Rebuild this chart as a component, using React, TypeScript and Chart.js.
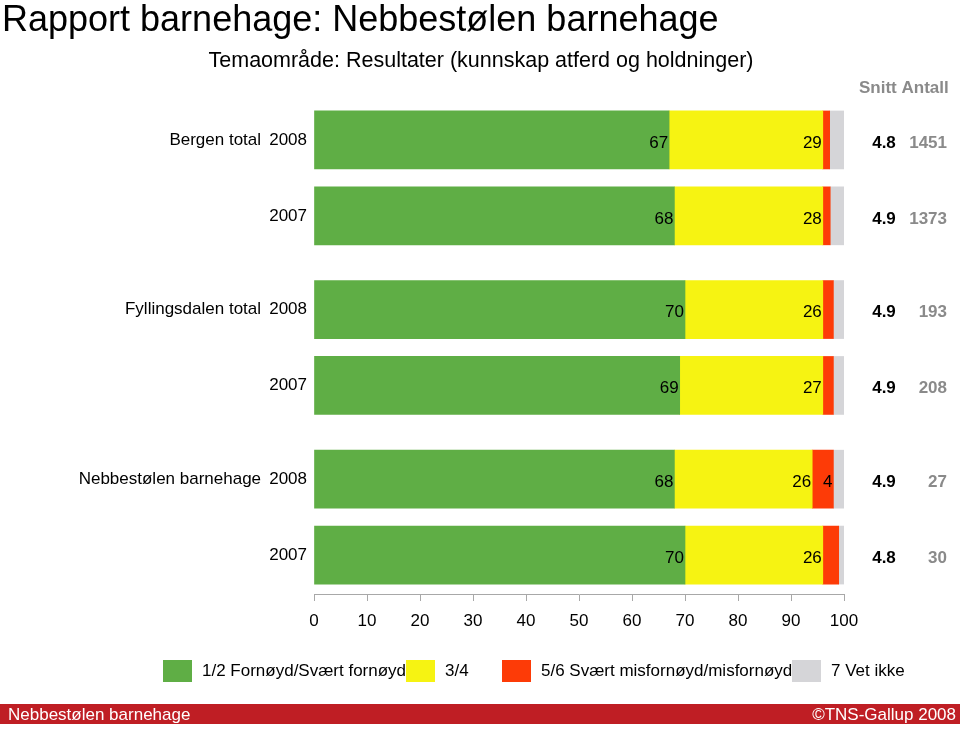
import React, { useEffect, useRef } from "react";
import { Chart, registerables } from "chart.js";

Chart.register(...registerables);

// ---------- data ----------
const groupNames = ["Bergen total", "Fyllingsdalen total", "Nebbestølen barnehage"];
const years = ["2008", "2007"];
const satisfied = [67, 68, 70, 69, 68, 70];
const neutral = [29, 28, 26, 27, 26, 26];
const dissatisfied = [1.3, 1.4, 2, 2, 4, 3];
const dontKnow = [2.7, 2.6, 2, 2, 2, 1];
const averages = ["4.8", "4.9", "4.9", "4.9", "4.9", "4.8"];
const counts = ["1451", "1373", "193", "208", "27", "30"];
const seriesNames = [
  "1/2 Fornøyd/Svært fornøyd",
  "3/4",
  "5/6 Svært misfornøyd/misfornøyd",
  "7 Vet ikke",
];
const xTickValues = [0, 10, 20, 30, 40, 50, 60, 70, 80, 90, 100];
const columnHeaders = ["Snitt", "Antall"];

const titleText = "Rapport barnehage: Nebbestølen barnehage";
const subtitleText = "Temaområde: Resultater (kunnskap atferd og holdninger)";
const footerLeft = "Nebbestølen barnehage";
const footerRight = "©TNS-Gallup 2008";

// ---------- style / layout ----------
const FONT = '"Liberation Sans", Arial, Helvetica, sans-serif';
const seriesColors = ["#5fae45", "#f6f312", "#fd3b07", "#d5d5d8"];
const GROUP_GAP = 0.235;
const LEGEND_X = [163, 406, 502, 792];

const rows = groupNames.flatMap((g, gi) =>
  years.map((y, yi) => ({
    label: yi === 0 ? `${g}\u00a0\u2009${y}` : y,
    pos: gi * years.length + yi + gi * GROUP_GAP,
  }))
);
const lastPos = rows[rows.length - 1].pos;

const seriesValues = [satisfied, neutral, dissatisfied, dontKnow];

export default function App() {
  const canvasRef = useRef<HTMLCanvasElement | null>(null);

  useEffect(() => {
    const canvas = canvasRef.current;
    if (!canvas) return;

    const decorPlugin = {
      id: "decor",
      afterDatasetsDraw(chart: any) {
        const ctx = chart.ctx;
        ctx.save();
        ctx.font = `17px ${FONT}`;
        ctx.fillStyle = "#000";
        ctx.textAlign = "right";
        ctx.textBaseline = "middle";
        chart.data.datasets.forEach((ds: any, di: number) => {
          if (di > 2) return;
          const meta = chart.getDatasetMeta(di);
          meta.data.forEach((el: any, i: number) => {
            const v = ds.data[i].x;
            if (v >= 4) ctx.fillText(String(Math.round(v)), el.x - 1, el.y + 3);
          });
        });
        ctx.restore();
      },
      afterDraw(chart: any) {
        const ctx = chart.ctx;
        const yScale = chart.scales.y;
        ctx.save();
        // title
        ctx.fillStyle = "#000";
        ctx.textAlign = "left";
        ctx.textBaseline = "alphabetic";
        ctx.font = `36px ${FONT}`;
        ctx.fillText(titleText, 2, 31);
        ctx.font = `21.5px ${FONT}`;
        ctx.textAlign = "center";
        ctx.fillText(subtitleText, 481, 67);
        // column headers
        ctx.font = `bold 17px ${FONT}`;
        ctx.fillStyle = "#8a8a8a";
        ctx.textAlign = "left";
        ctx.fillText(`${columnHeaders[0]} ${columnHeaders[1]}`, 859, 93);
        // right-hand values
        ctx.textBaseline = "middle";
        rows.forEach((r, i) => {
          const y = yScale.getPixelForValue(r.pos) + 3;
          ctx.fillStyle = "#000";
          ctx.textAlign = "center";
          ctx.fillText(averages[i], 884, y);
          ctx.fillStyle = "#8a8a8a";
          ctx.textAlign = "right";
          ctx.fillText(counts[i], 947, y);
        });
        // legend
        ctx.font = `17px ${FONT}`;
        chart.data.datasets.forEach((ds: any, di: number) => {
          const x = LEGEND_X[di];
          ctx.fillStyle = ds.backgroundColor;
          ctx.fillRect(x, 660, 29, 22);
          ctx.fillStyle = "#000";
          ctx.textAlign = "left";
          ctx.fillText(ds.label, x + 39, 671);
        });
        // footer
        ctx.fillStyle = "#bf1e24";
        ctx.fillRect(0, 704, 960, 20);
        ctx.fillStyle = "#fff";
        ctx.font = `17px ${FONT}`;
        ctx.textBaseline = "alphabetic";
        ctx.textAlign = "left";
        ctx.fillText(footerLeft, 8, 720);
        ctx.textAlign = "right";
        ctx.fillText(footerRight, 956, 720);
        ctx.restore();
      },
    };

    const chart = new Chart(canvas, {
      type: "bar",
      data: {
        datasets: seriesNames.map((name, si) => ({
          label: name,
          data: seriesValues[si].map((v, i) => ({ x: v, y: rows[i].pos })),
          backgroundColor: seriesColors[si],
          borderWidth: 0,
          barThickness: 58,
        })),
      },
      options: {
        indexAxis: "y",
        responsive: false,
        animation: false,
        events: [],
        layout: { padding: { top: 102, right: 116, left: 0, bottom: 0 } },
        plugins: {
          legend: { display: false },
          tooltip: { enabled: false },
          title: { display: false },
        },
        scales: {
          x: {
            type: "linear",
            stacked: true,
            min: 0,
            max: 100,
            afterFit: (s: any) => {
              s.height = 137;
            },
            afterBuildTicks: (s: any) => {
              s.ticks = xTickValues.map((v) => ({ value: v }));
            },
            grid: {
              display: true,
              drawOnChartArea: false,
              drawTicks: true,
              tickLength: 7,
              color: "#a8a8a8",
            },
            border: { display: true, color: "#a8a8a8" },
            ticks: {
              color: "#000",
              font: { family: FONT, size: 17 },
              padding: 10,
              maxRotation: 0,
              autoSkip: false,
            },
          },
          y: {
            type: "linear",
            stacked: true,
            reverse: true,
            offset: false,
            min: -0.5,
            max: lastPos + 0.513,
            afterFit: (s: any) => {
              s.width = 314;
            },
            afterBuildTicks: (s: any) => {
              s.ticks = rows.map((r) => ({ value: r.pos }));
            },
            grid: { display: false, drawTicks: false },
            border: { display: false },
            ticks: {
              color: "#000",
              font: { family: FONT, size: 17 },
              padding: 7,
              autoSkip: false,
              callback: (_v: any, idx: number) => rows[idx] ? rows[idx].label : "",
            },
          },
        },
      } as any,
      plugins: [decorPlugin],
    });

    return () => chart.destroy();
  }, []);

  return (
    <div
      style={{
        position: "fixed",
        left: 0,
        top: 0,
        width: 960,
        height: 731,
        background: "#fff",
        overflow: "hidden",
      }}
    >
      <canvas ref={canvasRef} width={960} height={731} style={{ display: "block" }} />
    </div>
  );
}
